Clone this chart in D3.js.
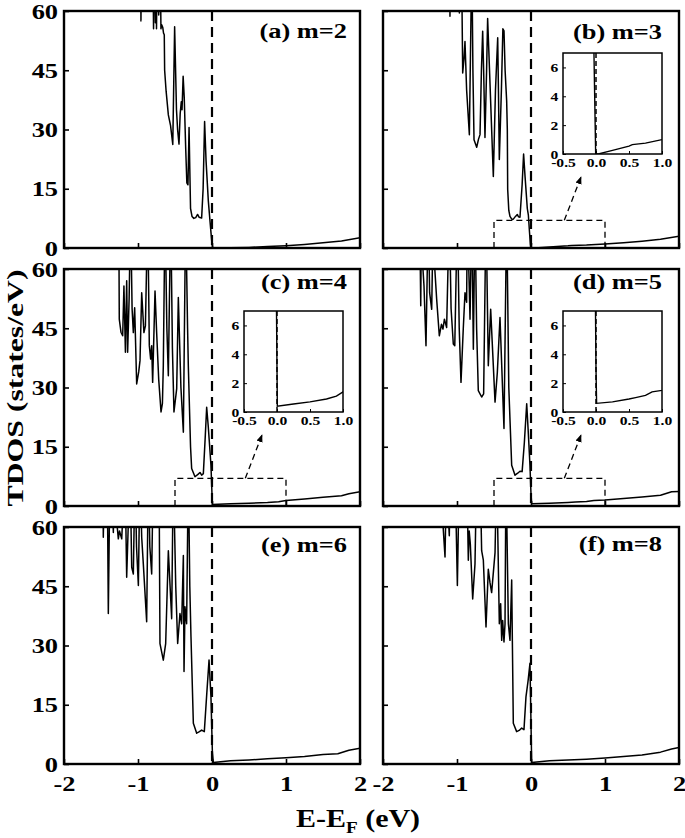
<!DOCTYPE html>
<html>
<head>
<meta charset="utf-8">
<script src="https://cdn.jsdelivr.net/npm/d3@7"></script>
<style>
  body { margin: 0; background: #fff; }
  text { font-family: "Liberation Serif", "Times New Roman", serif; font-weight: bold; fill: #000; }
</style>
</head>
<body>
<script>
// ---- data (E - EF in eV, TDOS in states/eV); values above 60 run off the top of the frame
const xTicks = [-2, -1, 0, 1, 2];
const yTicks = [0, 15, 30, 45, 60];
const insetXTicks = [-0.5, 0, 0.5, 1.0];
const insetYTicks = [0, 2, 4, 6];
const panelLabels = ["(a) m=2", "(b) m=3", "(c) m=4", "(d) m=5", "(e) m=6", "(f) m=8"];
const hasInset = [false, true, true, true, false, false];

const dosA = [[-2,75],[-0.965,75],[-0.96,57.5],[-0.955,75],[-0.80,75],[-0.79,55.5],[-0.78,75],[-0.765,57],[-0.755,75],
  [-0.75,55.5],[-0.74,75],[-0.72,59],[-0.70,75],[-0.69,55.5],[-0.68,56.5],[-0.665,55.8],[-0.655,54.4],[-0.645,54],
  [-0.64,45],[-0.62,39.7],[-0.59,33.7],[-0.56,31],[-0.53,26.2],[-0.505,56],[-0.48,35],[-0.465,30],[-0.446,26.3],
  [-0.43,34],[-0.415,37],[-0.405,35],[-0.39,43.5],[-0.375,38],[-0.355,25],[-0.34,16.5],[-0.325,16],[-0.31,30.5],
  [-0.30,20],[-0.29,10],[-0.27,8],[-0.245,7.5],[-0.22,7.7],[-0.195,8.5],[-0.175,7.8],[-0.14,7.6],[-0.12,15],
  [-0.10,32],[-0.08,22],[-0.05,12],[-0.027,6.8],[-0.005,2],[0.01,0],
  [0.25,0.05],[0.5,0.15],[0.75,0.35],[1.0,0.6],[1.25,0.9],[1.5,1.3],[1.75,1.8],[2.0,2.6]];

const dosB = [[-2,75],[-1.10,75],[-1.095,58.7],[-1.09,75],[-0.975,75],[-0.968,59.5],[-0.96,75],[-0.94,75],[-0.923,44.3],
  [-0.905,48],[-0.892,52.3],[-0.87,40],[-0.833,28.7],[-0.81,60],[-0.80,75],[-0.785,45],[-0.77,27.4],[-0.734,25.5],
  [-0.71,27.5],[-0.689,28.7],[-0.67,45],[-0.653,54.9],[-0.64,45],[-0.622,28],[-0.60,45],[-0.586,58.1],[-0.57,50],
  [-0.509,18.1],[-0.48,40],[-0.45,53.2],[-0.44,40],[-0.428,22.4],[-0.40,40],[-0.38,55.5],[-0.365,55],[-0.35,45],
  [-0.329,37.3],[-0.32,30],[-0.315,14.8],[-0.30,9.5],[-0.284,8],[-0.26,7.3],[-0.239,7.3],[-0.21,8],[-0.185,8.5],
  [-0.17,7.9],[-0.149,7.8],[-0.12,16],[-0.10,23.8],[-0.08,18],[-0.05,10],[-0.036,8.4],[-0.02,4],[-0.005,0],
  [0.05,0.02],[0.25,0.25],[0.5,0.55],[0.55,0.65],[0.75,0.75],[1.0,1.0],[1.25,1.3],[1.5,1.7],[1.75,2.2],[2.0,3.0]];

const dosC = [[-2,75],[-1.26,75],[-1.253,47.3],[-1.23,44],[-1.207,43.1],[-1.19,55.7],[-1.17,38.9],[-1.153,57],[-1.14,38.9],
  [-1.12,52.4],[-1.10,75],[-1.08,50],[-1.063,43.9],[-1.045,50.2],[-1.018,30.9],[-0.99,34],[-0.973,36.8],[-0.95,54],
  [-0.92,43.9],[-0.90,45.6],[-0.869,75],[-0.847,40.6],[-0.829,37.2],[-0.815,40.6],[-0.802,31.3],[-0.77,54.4],
  [-0.748,43.9],[-0.72,32],[-0.689,23.8],[-0.67,26],[-0.658,35.5],[-0.635,75],[-0.61,45],[-0.59,33],[-0.558,75],
  [-0.535,40],[-0.514,23.8],[-0.477,29.7],[-0.455,52.8],[-0.42,30],[-0.387,18.7],[-0.356,75],[-0.33,45],[-0.32,35.5],
  [-0.29,15],[-0.275,9.5],[-0.23,7.4],[-0.19,8],[-0.162,8.5],[-0.14,7.8],[-0.117,8.2],[-0.09,18],[-0.072,25],
  [-0.05,20],[-0.014,10.3],[0.0,3],[0.005,0.4],
  [0.25,0.55],[0.5,0.7],[0.75,0.9],[0.9,1.1],[1.0,1.4],[1.25,1.8],[1.5,2.2],[1.75,2.6],[1.85,3.1],[2.0,3.6]];

const dosD = [[-2,75],[-1.505,75],[-1.49,50.7],[-1.48,75],[-1.46,60],[-1.446,55.7],[-1.419,40.6],[-1.388,75],[-1.37,54],
  [-1.342,49.8],[-1.32,75],[-1.30,60],[-1.275,52.4],[-1.239,43.1],[-1.21,46],[-1.19,44.8],[-1.17,47.3],[-1.14,45.2],
  [-1.104,75],[-1.08,50],[-1.05,41],[-1.03,40.6],[-0.995,75],[-0.97,45],[-0.946,31.3],[-0.915,45],[-0.892,54],
  [-0.87,51.6],[-0.86,75],[-0.824,47.3],[-0.80,75],[-0.779,39.7],[-0.757,75],[-0.735,45],[-0.712,29.2],[-0.667,27.6],
  [-0.64,28.4],[-0.608,75],[-0.577,35.5],[-0.545,49.8],[-0.486,26.3],[-0.455,33.8],[-0.419,47.7],[-0.365,19.6],
  [-0.329,75],[-0.30,30],[-0.261,10.3],[-0.216,7.8],[-0.18,8.3],[-0.149,8.8],[-0.12,8.7],[-0.09,16],[-0.058,25.9],
  [-0.035,18],[-0.014,10.3],[0.0,3],[0.009,0.6],
  [0.25,0.7],[0.5,0.9],[0.6,1.0],[0.75,1.15],[0.85,1.4],[1.0,1.5],[1.25,1.9],[1.5,2.3],[1.75,2.7],[1.9,3.6],[2.0,3.7]];

const dosE = [[-2,75],[-1.475,75],[-1.469,57.4],[-1.45,75],[-1.41,60],[-1.401,38.1],[-1.378,75],[-1.34,62],[-1.333,58.6],
  [-1.32,75],[-1.29,62],[-1.266,57],[-1.25,59],[-1.22,57],[-1.176,75],[-1.153,47.3],[-1.108,75],[-1.085,49.8],
  [-1.063,48.1],[-1.04,75],[-1.02,55],[-0.995,45.2],[-0.973,75],[-0.95,57.4],[-0.928,50.6],[-0.883,36],[-0.86,75],
  [-0.84,55],[-0.815,48.1],[-0.793,75],[-0.716,75],[-0.703,30.5],[-0.658,26.3],[-0.626,30.5],[-0.59,54],[-0.545,36.8],
  [-0.523,75],[-0.49,45],[-0.464,30.5],[-0.433,38.1],[-0.41,35.5],[-0.387,52.8],[-0.378,23.4],[-0.365,39.8],
  [-0.343,35.5],[-0.32,75],[-0.30,45],[-0.284,32.2],[-0.252,10.3],[-0.207,7.8],[-0.17,8.2],[-0.14,8.6],[-0.104,8.2],
  [-0.07,18],[-0.04,26.3],[-0.014,17],[0.005,3],[0.018,0.4],
  [0.25,0.8],[0.5,1.0],[0.75,1.3],[1.0,1.6],[1.25,1.9],[1.5,2.4],[1.7,2.6],[1.85,3.5],[2.0,4.0]];

const dosF = [[-2,75],[-1.20,75],[-1.194,62],[-1.18,57.8],[-1.162,52.4],[-1.14,75],[-1.115,62],[-1.104,57.8],[-1.09,75],
  [-1.027,75],[-0.995,45.2],[-0.968,75],[-0.869,75],[-0.847,51.6],[-0.835,59],[-0.82,55.7],[-0.788,41.8],[-0.757,50.6],
  [-0.734,75],[-0.689,75],[-0.667,54],[-0.644,51.6],[-0.608,34.7],[-0.577,49.3],[-0.554,45.9],[-0.532,43.4],
  [-0.486,53.5],[-0.464,75],[-0.428,35.5],[-0.41,40.6],[-0.396,31.3],[-0.383,36.3],[-0.365,30.9],[-0.351,35.5],
  [-0.338,75],[-0.306,35.5],[-0.284,31.3],[-0.261,46.6],[-0.252,31.3],[-0.239,10.3],[-0.194,8.2],[-0.16,8.5],
  [-0.126,9.1],[-0.095,8.7],[-0.068,17],[-0.04,21],[-0.014,25.5],[0.009,0.4],
  [0.25,0.8],[0.5,1.0],[0.75,1.2],[1.0,1.5],[1.25,1.9],[1.5,2.3],[1.75,3.0],[1.9,3.8],[2.0,4.2]];

const dosAll = [dosA, dosB, dosC, dosD, dosE, dosF];

// ---- layout
const W = 685, H = 838;
const colX = [64, 383], rowY = [11, 269, 527];
const pw = 296, ph = 237;
const SX = 1.2; // glyphs in the figure are stretched horizontally
const labelDy = [27, 28, 20, 20, 25, 24];

const svg = d3.select("body").append("svg").attr("width", W).attr("height", H);
const defs = svg.append("defs");
defs.append("marker").attr("id", "arr")
  .attr("viewBox", "0 0 10 10").attr("refX", 9).attr("refY", 5)
  .attr("markerWidth", 6).attr("markerHeight", 6).attr("orient", "auto")
  .append("path").attr("d", "M0,1L10,5L0,9z").attr("fill", "#000");

const stretch = sel => sel.attr("transform", `scale(${SX},1)`);

dosAll.forEach((data, i) => {
  const col = i % 2, row = Math.floor(i / 2);
  const x0 = colX[col], y0 = rowY[row];
  const x = d3.scaleLinear().domain([-2, 2]).range([x0, x0 + pw]);
  const y = d3.scaleLinear().domain([0, 60]).range([y0 + ph, y0]);
  const g = svg.append("g");

  defs.append("clipPath").attr("id", "clip" + i)
    .append("rect").attr("x", x0).attr("y", y0).attr("width", pw).attr("height", ph);

  const line = d3.line().x(d => x(d[0])).y(d => y(d[1]));

  // curve
  g.append("path").datum(data)
    .attr("clip-path", `url(#clip${i})`)
    .attr("d", line)
    .attr("fill", "none").attr("stroke", "#000").attr("stroke-width", 1.5)
    .attr("stroke-linejoin", "round");

  // Fermi level
  g.append("line")
    .attr("x1", x(0)).attr("x2", x(0)).attr("y1", y(60)).attr("y2", y(0))
    .attr("stroke", "#000").attr("stroke-width", 2.2).attr("stroke-dasharray", "10,6");

  // axes
  const xa = g.append("g").attr("transform", `translate(0,${y0 + ph})`)
    .call(d3.axisBottom(x).tickValues(xTicks).tickSize(-5).tickPadding(11)
      .tickFormat(d => row === 2 ? String(d) : ""));
  const ya = g.append("g").attr("transform", `translate(${x0},0)`)
    .call(d3.axisLeft(y).tickValues(yTicks).tickSize(-5).tickPadding(5)
      .tickFormat(d => col === 0 ? String(d) : ""));
  [xa, ya].forEach(a => {
    a.attr("font-size", 22);
    a.select(".domain").remove();
    a.selectAll(".tick line").attr("stroke-width", 1.6);
    a.selectAll("text").call(stretch);
  });

  // frame
  g.append("rect").attr("x", x0).attr("y", y0).attr("width", pw).attr("height", ph)
    .attr("fill", "none").attr("stroke", "#000").attr("stroke-width", 2.4);

  // panel label
  g.append("text")
    .attr("transform", `translate(${x0 + pw - (col === 0 ? 13 : 17)},${y0 + labelDy[i]}) scale(${SX},1)`)
    .attr("text-anchor", "end").attr("font-size", 22)
    .text(panelLabels[i]);

  if (!hasInset[i]) return;

  // zoom box in the main panel
  g.append("path")
    .attr("d", `M${x(-0.5)},${y(0)}V${y(7)}H${x(1.0)}V${y(0)}`)
    .attr("fill", "none").attr("stroke", "#000").attr("stroke-width", 1.3)
    .attr("stroke-dasharray", "6,4");

  // inset
  const il = x0 + 180, it = y0 + 42, iw = 99, ih = 101;
  const ix = d3.scaleLinear().domain([-0.5, 1.0]).range([il, il + iw]);
  const iy = d3.scaleLinear().domain([0, 7]).range([it + ih, it]);
  const ig = svg.append("g");
  defs.append("clipPath").attr("id", "iclip" + i)
    .append("rect").attr("x", il).attr("y", it).attr("width", iw).attr("height", ih);
  ig.append("rect").attr("x", il).attr("y", it).attr("width", iw).attr("height", ih).attr("fill", "#fff");
  const iline = d3.line().x(d => ix(d[0])).y(d => iy(d[1]));
  ig.append("line")
    .attr("x1", ix(0)).attr("x2", ix(0)).attr("y1", it).attr("y2", it + ih)
    .attr("stroke", "#000").attr("stroke-width", 1.5).attr("stroke-dasharray", "5,3");
  ig.append("path").datum(data)
    .attr("clip-path", `url(#iclip${i})`)
    .attr("d", iline)
    .attr("fill", "none").attr("stroke", "#000").attr("stroke-width", 1.4);

  const ixa = ig.append("g").attr("transform", `translate(0,${it + ih})`)
    .call(d3.axisBottom(ix).tickValues(insetXTicks).tickSize(-3).tickPadding(4)
      .tickFormat(d => d3.format(".1f")(d).replace("\u2212", "-")));
  const iya = ig.append("g").attr("transform", `translate(${il},0)`)
    .call(d3.axisLeft(iy).tickValues(insetYTicks).tickSize(-3).tickPadding(4)
      .tickFormat(d => String(d)));
  [ixa, iya].forEach(a => {
    a.attr("font-size", 13);
    a.select(".domain").remove();
    a.selectAll("text").call(stretch);
  });

  ig.append("rect").attr("x", il).attr("y", it).attr("width", iw).attr("height", ih)
    .attr("fill", "none").attr("stroke", "#000").attr("stroke-width", 1.5);

  // dashed arrow from zoom box to inset
  ig.append("line")
    .attr("x1", x(0.45)).attr("y1", y(7))
    .attr("x2", il + 18).attr("y2", it + ih + 23)
    .attr("stroke", "#000").attr("stroke-width", 1.3).attr("stroke-dasharray", "6,4")
    .attr("marker-end", "url(#arr)");
});

// axis titles
const xt = svg.append("text")
  .attr("transform", `translate(358,827) scale(${SX},1)`)
  .attr("text-anchor", "middle").attr("font-size", 25);
xt.append("tspan").text("E-E");
xt.append("tspan").attr("font-size", 16).attr("dy", 6).text("F");
xt.append("tspan").attr("dy", -6).text(" (eV)");

svg.append("text")
  .attr("transform", "translate(23,388) rotate(-90) scale(1.38,1)")
  .attr("text-anchor", "middle").attr("font-size", 23)
  .text("TDOS (states/eV)");
</script>
</body>
</html>
